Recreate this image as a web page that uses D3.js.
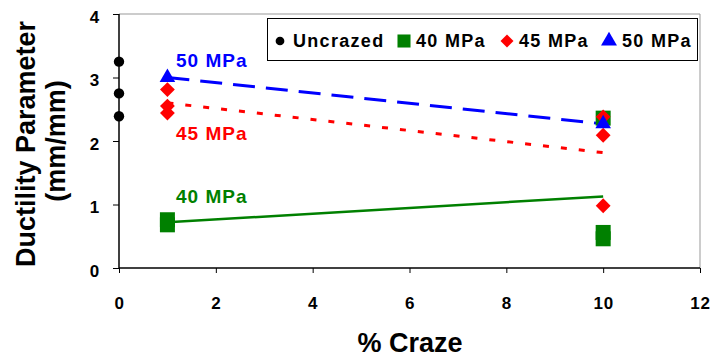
<!DOCTYPE html>
<html>
<head>
<meta charset="utf-8">
<script src="https://cdn.jsdelivr.net/npm/d3@7"></script>
<style>
  html, body { margin: 0; padding: 0; background: #fff; }
  svg text { font-family: "Liberation Sans", Arial, sans-serif; font-weight: bold; }
</style>
</head>
<body>
<svg id="chart" width="714" height="358"></svg>
<script>
// Ductility parameter vs. % craze for three craze stresses plus uncrazed specimens
const uncrazedX = [0, 0, 0];
const uncrazedY = [3.25, 2.75, 2.39];

const mpa40X = [1, 1, 10, 10, 10];
const mpa40Y = [0.76, 0.68, 2.36, 0.56, 0.46];

const mpa45X = [1, 1, 1, 10, 10, 10];
const mpa45Y = [2.81, 2.55, 2.44, 2.38, 2.09, 0.98];

const mpa50X = [1, 10];
const mpa50Y = [3.0, 2.27];

const xTicks = [0, 2, 4, 6, 8, 10, 12];
const yTicks = [0, 1, 2, 3, 4];

const svg = d3.select("#chart");
const plotL = 119, plotR = 700, plotT = 14, plotB = 268;

const x = d3.scaleLinear().domain([0, 12]).range([plotL, plotR]);
const y = d3.scaleLinear().domain([0, 4]).range([plotB, plotT]);

// plot-area frame (top and right edges)
svg.append("path")
  .attr("d", `M${plotL},${plotT}H${plotR}V${plotB}`)
  .attr("fill", "none").attr("stroke", "#999").attr("stroke-width", 1);

// axes
const yAxis = svg.append("g").attr("transform", `translate(${plotL},0)`)
  .call(d3.axisLeft(y).tickValues(yTicks).tickFormat(d3.format("d")).tickSize(6).tickPadding(13));
const xAxis = svg.append("g").attr("transform", `translate(0,${plotB})`)
  .call(d3.axisBottom(x).tickValues(xTicks).tickFormat(d3.format("d")).tickSize(5).tickPadding(24));
[yAxis, xAxis].forEach(g => {
  g.select(".domain").attr("stroke", "#000").attr("stroke-width", 1.5);
  g.selectAll(".tick line").attr("stroke", "#000");
  g.selectAll(".tick text").attr("font-size", 17).attr("fill", "#000")
    .attr("font-family", "'Liberation Sans',Arial,sans-serif")
    .attr("font-weight", "bold").attr("letter-spacing", 0.8);
});
yAxis.selectAll(".tick text").attr("y", 3);
// axis domain paths with outer ticks removed
yAxis.select(".domain").attr("d", `M0,${plotT}V${plotB}`);
xAxis.select(".domain").attr("d", `M${plotL},0H${plotR}`);

// least-squares trend line over the x-range of a series
function trend(xs, ys) {
  const n = xs.length, mx = d3.mean(xs), my = d3.mean(ys);
  let sxy = 0, sxx = 0;
  for (let i = 0; i < n; i++) { sxy += (xs[i] - mx) * (ys[i] - my); sxx += (xs[i] - mx) ** 2; }
  const b = sxy / sxx, a = my - b * mx;
  const x0 = d3.min(xs), x1 = d3.max(xs);
  return [[x0, a + b * x0], [x1, a + b * x1]];
}
const line = d3.line().x(d => x(d[0])).y(d => y(d[1]));

svg.append("path").attr("d", line(trend(mpa40X, mpa40Y)))
  .attr("stroke", "#008000").attr("stroke-width", 2.5).attr("fill", "none");
svg.append("path").attr("d", line(trend(mpa45X, mpa45Y)))
  .attr("stroke", "#ff0000").attr("stroke-width", 3).attr("stroke-dasharray", "6,12").attr("fill", "none");
svg.append("path").attr("d", line(trend(mpa50X, mpa50Y)))
  .attr("stroke", "#0000ff").attr("stroke-width", 3).attr("stroke-dasharray", "22,11").attr("fill", "none");

// markers
const sym = {
  circle: d3.symbol().type(d3.symbolCircle).size(85),
  square: d3.symbol().type(d3.symbolSquare).size(225),
  diamond: d3.symbol().type(d3.symbolSquare).size(110),
  triangle: d3.symbol().type(d3.symbolTriangle).size(105)
};
function points(xs, ys, shape, color, rot) {
  svg.append("g").selectAll("path").data(xs.map((v, i) => [v, ys[i]])).join("path")
    .attr("d", sym[shape]())
    .attr("transform", d => `translate(${x(d[0])},${y(d[1])})` + (rot ? " rotate(45)" : ""))
    .attr("fill", color);
}
points(mpa40X, mpa40Y, "square", "#008000");
points(mpa45X, mpa45Y, "diamond", "#ff0000", true);
points(mpa50X, mpa50Y, "triangle", "#0000ff");
points(uncrazedX, uncrazedY, "circle", "#000");

// series labels
const seriesLabels = [
  { text: "50 MPa", color: "#0000ff", yb: 67 },
  { text: "45 MPa", color: "#ff0000", yb: 140 },
  { text: "40 MPa", color: "#008000", yb: 203 }
];
seriesLabels.forEach(s => {
  svg.append("text").attr("x", 176).attr("y", s.yb).attr("font-size", 19)
    .attr("letter-spacing", 1).attr("fill", s.color).text(s.text);
});

// legend
const lg = svg.append("g");
lg.append("rect").attr("x", 267.5).attr("y", 18.5).attr("width", 430).attr("height", 42)
  .attr("fill", "#fff").attr("stroke", "#000").attr("stroke-width", 1);
const legendItems = [
  { type: d3.symbolCircle, color: "#000", label: "Uncrazed", mx: 280, tx: 293, size: 60 },
  { type: d3.symbolSquare, color: "#008000", label: "40 MPa", mx: 404, tx: 416, size: 170 },
  { type: d3.symbolSquare, color: "#ff0000", label: "45 MPa", mx: 507, tx: 519, size: 85, rot: true },
  { type: d3.symbolTriangle, color: "#0000ff", label: "50 MPa", mx: 609, tx: 622, size: 110 }
];
legendItems.forEach(it => {
  lg.append("path")
    .attr("d", d3.symbol().type(it.type).size(it.size)())
    .attr("transform", `translate(${it.mx},41)` + (it.rot ? " rotate(45)" : ""))
    .attr("fill", it.color);
  lg.append("text").attr("x", it.tx).attr("y", 47).attr("font-size", 18)
    .attr("letter-spacing", 1.3).attr("fill", "#000").text(it.label);
});

// axis titles
svg.append("text").attr("transform", "translate(35,144) rotate(-90)")
  .attr("text-anchor", "middle").attr("font-size", 27).attr("fill", "#000").text("Ductility Parameter");
svg.append("text").attr("transform", "translate(65,141) rotate(-90)")
  .attr("text-anchor", "middle").attr("font-size", 27).attr("fill", "#000").text("(mm/mm)");
svg.append("text").attr("x", 410).attr("y", 352)
  .attr("text-anchor", "middle").attr("font-size", 27).attr("fill", "#000").text("% Craze");
</script>
</body>
</html>
